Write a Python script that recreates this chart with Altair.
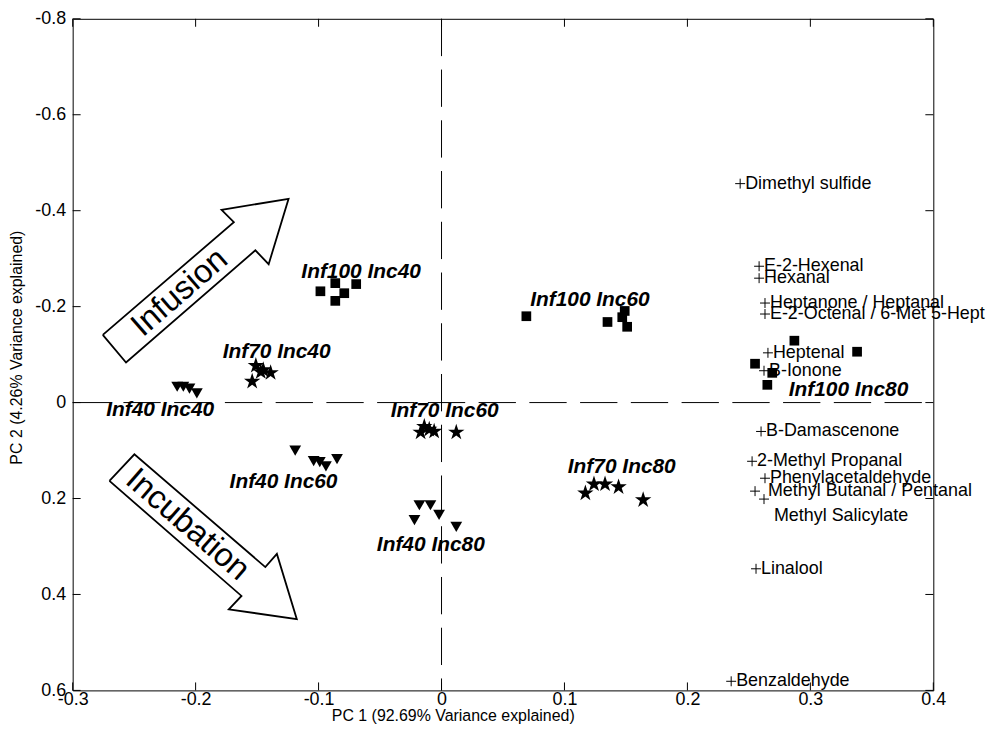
import altair as alt
import pandas as pd

# ---------------- data (PC1, PC2 scores) ----------------
inf40_inc40_x = [-0.215, -0.210, -0.205, -0.199]
inf40_inc40_y = [-0.033, -0.033, -0.029, -0.019]
inf40_inc60_x = [-0.119, -0.104, -0.099, -0.094, -0.085]
inf40_inc60_y = [0.100, 0.122, 0.124, 0.133, 0.118]
inf40_inc80_x = [-0.022, -0.018, -0.009, -0.002, 0.012]
inf40_inc80_y = [0.245, 0.214, 0.214, 0.234, 0.259]

inf70_inc40_x = [-0.151, -0.147, -0.139, -0.154, -0.145]
inf70_inc40_y = [-0.077, -0.064, -0.062, -0.044, -0.068]
inf70_inc60_x = [-0.017, -0.014, -0.010, -0.006, 0.012]
inf70_inc60_y = [0.062, 0.050, 0.056, 0.060, 0.062]
inf70_inc80_x = [0.117, 0.124, 0.133, 0.144, 0.164]
inf70_inc80_y = [0.189, 0.170, 0.170, 0.176, 0.203]

inf100_inc40_x = [-0.0985, -0.0864, -0.0791, -0.0864, -0.0694]
inf100_inc40_y = [-0.232, -0.249, -0.228, -0.212, -0.247]
inf100_inc60_x = [0.069, 0.135, 0.147, 0.149, 0.151]
inf100_inc60_y = [-0.180, -0.168, -0.178, -0.191, -0.158]
inf100_inc80_x = [0.287, 0.338, 0.255, 0.269, 0.265]
inf100_inc80_y = [-0.129, -0.106, -0.081, -0.062, -0.037]

# group labels
group_names = ["Inf100 Inc40", "Inf100 Inc60", "Inf70 Inc40", "Inf40 Inc40", "Inf70 Inc60",
               "Inf40 Inc60", "Inf40 Inc80", "Inf70 Inc80", "Inf100 Inc80"]
group_label_x = [-0.0654, 0.1207, -0.1341, -0.2288, 0.0026, -0.1285, -0.0087, 0.1466, 0.331]
group_label_y = [-0.272, -0.2137, -0.1058, 0.0145, 0.0166, 0.166, 0.2967, 0.1349, -0.027]

# loadings
loading_names = ["Dimethyl sulfide", "E-2-Hexenal", "Hexanal", "Heptanone / Heptanal",
                 "E-2-Octenal / 6-Met 5-Hept", "Heptenal", "B-Ionone", "B-Damascenone",
                 "2-Methyl Propanal", "Phenylacetaldehyde", "Methyl Butanal / Pentanal",
                 "Methyl Salicylate", "Linalool", "Benzaldehyde"]
loading_x = [0.2429, 0.2583, 0.2583, 0.2631, 0.2631, 0.2655, 0.2623, 0.2599,
             0.2526, 0.2631, 0.2550, 0.2623, 0.2558, 0.2356]
loading_y = [-0.4564, -0.2842, -0.2593, -0.2075, -0.1846, -0.1037, -0.0664, 0.0602,
             0.1224, 0.1577, 0.1846, 0.2012, 0.3465, 0.5810]

# annotation arrows (block arrow outlines, data coordinates)
infusion_arrow_x = [-0.2755, -0.2566, -0.1514, -0.1406, -0.1244, -0.1789, -0.1689, -0.2755]
infusion_arrow_y = [-0.141, -0.0836, -0.3174, -0.2884, -0.4247, -0.4019, -0.3761, -0.141]
incubation_arrow_x = [-0.2701, -0.2498, -0.1433, -0.1339, -0.1177, -0.1730, -0.1627, -0.2701]
incubation_arrow_y = [0.1633, 0.1079, 0.3429, 0.3154, 0.4517, 0.4309, 0.4031, 0.1633]
arrow_text = ["Infusion", "Incubation"]
arrow_text_x = [-0.2131, -0.2065]
arrow_text_y = [-0.2295, 0.2544]

x_ticks = [-0.3, -0.2, -0.1, 0.0, 0.1, 0.2, 0.3, 0.4]
y_ticks = [-0.8, -0.6, -0.4, -0.2, 0.0, 0.2, 0.4, 0.6]

# ---------------- build tables ----------------
def pts(xs, ys):
    return pd.DataFrame({"x": xs, "y": ys})

tri_df = pd.concat([pts(inf40_inc40_x, inf40_inc40_y), pts(inf40_inc60_x, inf40_inc60_y),
                    pts(inf40_inc80_x, inf40_inc80_y)])
star_df = pd.concat([pts(inf70_inc40_x, inf70_inc40_y), pts(inf70_inc60_x, inf70_inc60_y),
                     pts(inf70_inc80_x, inf70_inc80_y)])
sq_df = pd.concat([pts(inf100_inc40_x, inf100_inc40_y), pts(inf100_inc60_x, inf100_inc60_y),
                   pts(inf100_inc80_x, inf100_inc80_y)])
grp_df = pd.DataFrame({"x": group_label_x, "y": group_label_y, "t": group_names})
load_df = pd.DataFrame({"x": loading_x, "y": loading_y, "t": loading_names})
arrow_df = pd.concat([
    pd.DataFrame({"x": infusion_arrow_x, "y": infusion_arrow_y,
                  "o": list(range(len(infusion_arrow_x))), "a": "inf"}),
    pd.DataFrame({"x": incubation_arrow_x, "y": incubation_arrow_y,
                  "o": list(range(len(incubation_arrow_x))), "a": "inc"}),
])
atext_df = pd.DataFrame({"x": arrow_text_x, "y": arrow_text_y, "t": arrow_text})

W, H = 865, 675
FONT = "Liberation Sans"
lab_expr = "datum.value == 0 ? '0' : (datum.value < 0 ? '-' : '') + format(abs(datum.value), '.1f')"

xs = alt.Scale(domain=[-0.3, 0.4], nice=False, zero=False)
ys = alt.Scale(domain=[-0.8, 0.6], reverse=True, nice=False, zero=False)

X = alt.X("x:Q", scale=xs, axis=alt.Axis(values=x_ticks, labelExpr=lab_expr, labelFlush=False,
          title="PC 1 (92.69% Variance explained)", labelPadding=0,
          titleX=382, titleY=25, titleAlign="center", titleBaseline="middle"))
Y = alt.Y("y:Q", scale=ys, axis=alt.Axis(values=y_ticks, labelExpr=lab_expr, labelFlush=False,
          title="PC 2 (4.26% Variance explained)", labelPadding=7,
          titleX=-56, titleY=330, titleAngle=270, titleAlign="center",
          titleBaseline="middle"))

STAR = ("M0,-1L0.2245,-0.309L0.951,-0.309L0.363,0.118L0.588,0.809L0,0.382"
        "L-0.588,0.809L-0.363,0.118L-0.951,-0.309L-0.2245,-0.309Z")
PLUS = "M-1,0L1,0M0,-1L0,1"

base_tri = alt.Chart(tri_df).mark_point(shape="triangle-down", size=140, filled=True,
                                        color="black", opacity=1).encode(x=X, y=Y)
base_star = alt.Chart(star_df).mark_point(shape=STAR, size=300, filled=True,
                                          color="black", opacity=1).encode(x=X, y=Y)
base_sq = alt.Chart(sq_df).mark_point(shape="square", size=95, filled=True,
                                      color="black", opacity=1).encode(x=X, y=Y)

zero_h = alt.Chart(pd.DataFrame({"y": [0.0]})).mark_rule(
    color="black", strokeWidth=1, strokeDash=[37.5, 13.5]).encode(
    y=Y, x=alt.datum(-0.3, scale=xs), x2=alt.datum(0.4))
zero_v = alt.Chart(pd.DataFrame({"x": [0.0]})).mark_rule(
    color="black", strokeWidth=1, strokeDash=[37.5, 13.5]).encode(
    x=X, y=alt.datum(-0.8, scale=ys), y2=alt.datum(0.6))

# inward ticks on all four sides
xt_df = pd.DataFrame({"x": x_ticks})
yt_df = pd.DataFrame({"y": y_ticks})
tick_b = alt.Chart(xt_df).mark_rule(color="black").encode(x=X, y=alt.value(H), y2=alt.value(H - 8))
tick_t = alt.Chart(xt_df).mark_rule(color="black").encode(x=X, y=alt.value(0), y2=alt.value(8))
tick_l = alt.Chart(yt_df).mark_rule(color="black").encode(y=Y, x=alt.value(0), x2=alt.value(8))
tick_r = alt.Chart(yt_df).mark_rule(color="black").encode(y=Y, x=alt.value(W - 8), x2=alt.value(W))

arrows = alt.Chart(arrow_df).mark_line(color="black", strokeWidth=1.8, strokeJoin="miter").encode(
    x=X, y=Y, order="o:Q", detail="a:N")
txt_inf = alt.Chart(atext_df[atext_df.t == "Infusion"]).mark_text(
    angle=319, fontSize=33, font=FONT, color="black", align="center", baseline="middle").encode(
    x=X, y=Y, text="t:N")
txt_inc = alt.Chart(atext_df[atext_df.t == "Incubation"]).mark_text(
    angle=41, fontSize=33, font=FONT, color="black", align="center", baseline="middle").encode(
    x=X, y=Y, text="t:N")

grp_txt = alt.Chart(grp_df).mark_text(fontSize=21, font=FONT, fontStyle="italic",
                                      fontWeight="bold", color="black", align="center",
                                      baseline="middle").encode(x=X, y=Y, text="t:N")

load_pts = alt.Chart(load_df).mark_point(shape=PLUS, size=100, filled=False, color="black",
                                         strokeWidth=1, opacity=1).encode(x=X, y=Y)
normal = load_df[~load_df.t.isin(["Methyl Butanal / Pentanal", "Methyl Salicylate"])]
load_txt = alt.Chart(normal).mark_text(fontSize=18, font=FONT, color="black", align="left",
                                       baseline="middle", dx=5).encode(x=X, y=Y, text="t:N")
load_txt_mb = alt.Chart(load_df[load_df.t == "Methyl Butanal / Pentanal"]).mark_text(
    fontSize=18, font=FONT, color="black", align="left", baseline="middle", dx=13).encode(
    x=X, y=Y, text="t:N")
load_txt_ms = alt.Chart(load_df[load_df.t == "Methyl Salicylate"]).mark_text(
    fontSize=18, font=FONT, color="black", align="left", baseline="middle", dx=10, dy=17).encode(
    x=X, y=Y, text="t:N")

chart = alt.layer(
    base_tri, zero_h, zero_v, tick_b, tick_t, tick_l, tick_r, arrows, txt_inf, txt_inc,
    base_star, base_sq, grp_txt, load_pts, load_txt, load_txt_mb, load_txt_ms,
).properties(
    width=W, height=H,
    autosize=alt.AutoSizeParams(type="none"),
    padding={"left": 65, "top": 9, "right": 62, "bottom": 50},
    background="white",
).configure_view(stroke="black", strokeWidth=1).configure_axis(
    ticks=False, tickSize=0, domain=False, grid=False,
    labelFont=FONT, labelFontSize=18, labelColor="black",
    titleFont=FONT, titleFontSize=16, titleFontWeight="normal", titleColor="black",
)

chart.save("out.html", embed_options={"renderer": "svg", "actions": False})
